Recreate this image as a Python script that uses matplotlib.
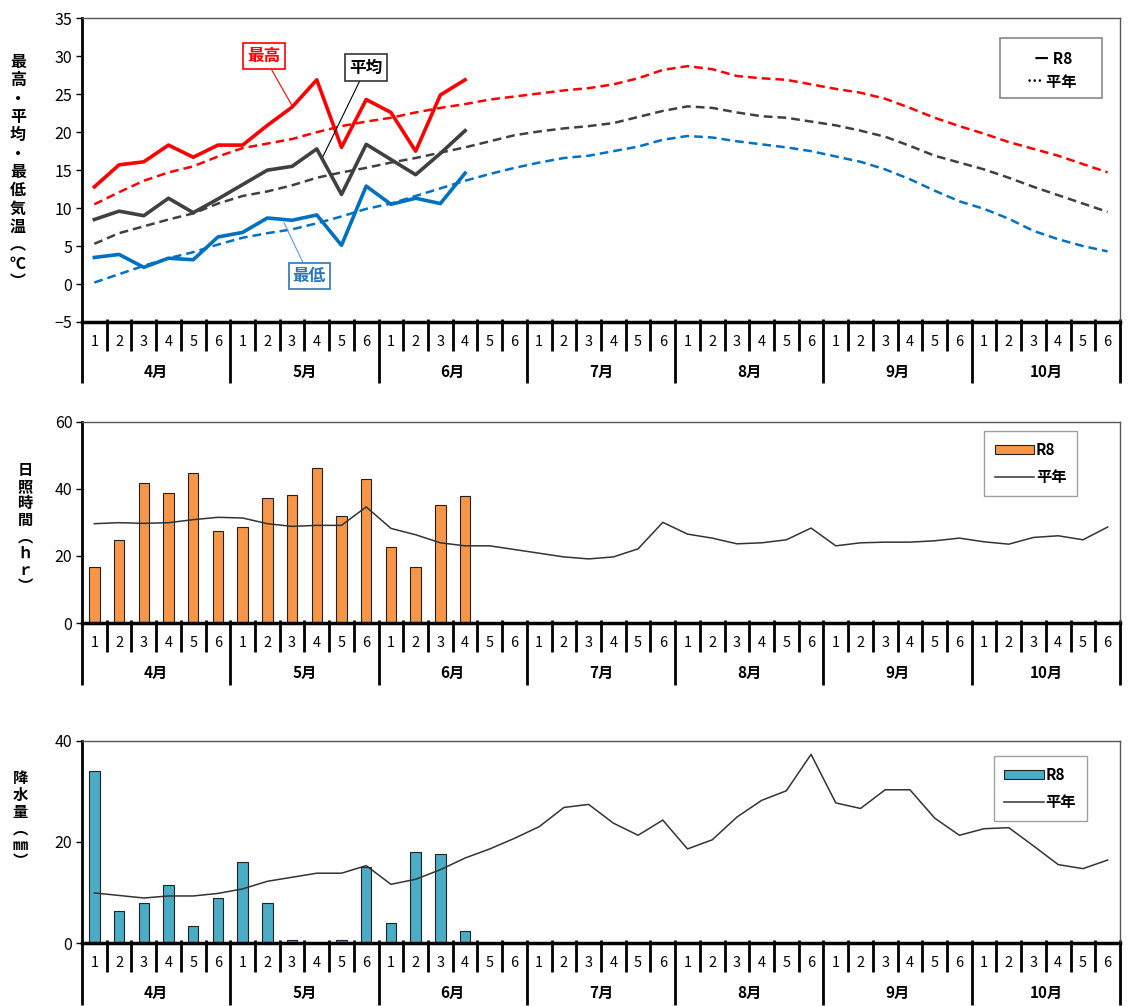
import numpy as np
import matplotlib
matplotlib.use('Agg')
import matplotlib.pyplot as plt
from matplotlib.transforms import blended_transform_factory
from matplotlib.patches import Rectangle, Patch
from matplotlib.lines import Line2D

plt.rcParams['font.family'] = ['Noto Sans CJK JP', 'DejaVu Sans']

months = ['4月', '5月', '6月', '7月', '8月', '9月', '10月']
pentads = ['1', '2', '3', '4', '5', '6']

# 気温 R8 (4月1半旬〜6月4半旬)
tmax_r8 = [12.8, 15.7, 16.1, 18.3, 16.7, 18.3, 18.3, 20.9, 23.3, 26.9, 18.0, 24.3, 22.6, 17.5, 24.9, 26.9]
tmean_r8 = [8.5, 9.6, 9.0, 11.3, 9.4, 11.2, 13.1, 15.0, 15.5, 17.8, 11.8, 18.4, 16.4, 14.4, 17.2, 20.2]
tmin_r8 = [3.5, 3.9, 2.2, 3.4, 3.2, 6.2, 6.8, 8.7, 8.4, 9.1, 5.1, 12.9, 10.5, 11.3, 10.6, 14.6]

# 気温 平年
tmax_norm = [10.5, 12.1, 13.6, 14.7, 15.5, 16.8, 17.9, 18.5, 19.1, 20.0, 20.8, 21.4,
             21.9, 22.6, 23.2, 23.7, 24.3, 24.7, 25.1, 25.5, 25.8, 26.3, 27.1, 28.2,
             28.7, 28.3, 27.4, 27.1, 26.9, 26.3, 25.7, 25.2, 24.4, 23.2, 21.9, 20.8,
             19.8, 18.7, 17.8, 16.9, 15.8, 14.7]
tmean_norm = [5.3, 6.7, 7.6, 8.5, 9.3, 10.6, 11.6, 12.2, 13.0, 14.0, 14.7, 15.3,
              16.0, 16.6, 17.3, 18.0, 18.8, 19.6, 20.1, 20.5, 20.8, 21.2, 22.0, 22.8,
              23.4, 23.2, 22.6, 22.1, 21.9, 21.4, 20.9, 20.2, 19.4, 18.2, 16.9, 16.0,
              15.1, 14.0, 12.8, 11.7, 10.6, 9.5]
tmin_norm = [0.2, 1.3, 2.4, 3.4, 4.2, 5.2, 6.1, 6.7, 7.2, 8.0, 8.9, 9.9,
             10.6, 11.6, 12.6, 13.6, 14.5, 15.3, 16.0, 16.6, 16.9, 17.5, 18.1, 19.0,
             19.5, 19.3, 18.8, 18.4, 18.0, 17.5, 16.8, 16.1, 15.1, 13.8, 12.3, 10.9,
             9.9, 8.6, 7.0, 5.9, 5.0, 4.3]

# 日照時間
sun_r8 = [16.6, 24.8, 41.8, 38.7, 44.8, 27.3, 28.7, 37.3, 38.1, 46.2, 32.0, 42.9,
          22.8, 16.7, 35.1, 37.9]
sun_norm = [29.6, 29.9, 29.7, 29.9, 30.8, 31.5, 31.3, 29.6, 28.8, 29.1, 29.1, 34.6,
            28.2, 26.3, 23.9, 23.0, 23.0, 21.9, 20.8, 19.7, 19.1, 19.7, 22.1, 30.0,
            26.5, 25.3, 23.6, 23.9, 24.8, 28.3, 23.0, 23.9, 24.1, 24.1, 24.5, 25.3,
            24.2, 23.5, 25.5, 26.0, 24.8, 28.6]

# 降水量
rain_r8 = [34.0, 6.4, 8.0, 11.4, 3.4, 8.9, 16.0, 7.9, 0.5, 0.0, 0.5, 15.1,
           4.0, 17.9, 17.5, 2.4]
rain_norm = [9.9, 9.4, 8.9, 9.3, 9.3, 9.8, 10.7, 12.2, 13.0, 13.8, 13.8, 15.3,
             11.6, 12.6, 14.5, 16.8, 18.6, 20.7, 23.0, 26.8, 27.4, 23.7, 21.3, 24.3,
             18.6, 20.4, 24.9, 28.2, 30.1, 37.3, 27.7, 26.6, 30.3, 30.3, 24.7, 21.3,
             22.6, 22.8, 19.2, 15.5, 14.7, 16.4]

W, H = 1129, 1006
fig = plt.figure(figsize=(W / 100, H / 100), dpi=100)

def fy(px):
    return 1 - px / H

L, R = 82, 1120

def make_ax(top, bottom):
    ax = fig.add_axes([L / W, fy(bottom), (R - L) / W, (bottom - top) / H])
    ax.set_xlim(-0.5, 41.5)
    ax.set_xticks([])
    for s in ['top', 'right']:
        ax.spines[s].set_color('#555555')
        ax.spines[s].set_linewidth(1)
    ax.spines['left'].set_linewidth(2)
    ax.spines['bottom'].set_linewidth(2.5)
    ax.tick_params(axis='y', direction='out', length=4, width=1, labelsize=11.5, pad=3)
    return ax

def pentad_axis(ax, y_axis, y_short, y_long, y_num, y_mon):
    tr = blended_transform_factory(ax.transData, fig.transFigure)
    for k in range(43):
        xb = k - 0.5
        y_end = y_long if k % 6 == 0 else y_short
        ax.plot([xb, xb], [fy(y_axis - 3), fy(y_end)], color='black', lw=2,
                transform=tr, clip_on=False, solid_capstyle='butt')
    for i in range(42):
        ax.text(i, fy(y_num), pentads[i % 6], transform=tr, ha='center', va='center',
                fontsize=10.5)
    for m, name in enumerate(months):
        ax.text(m * 6 + 2.5, fy(y_mon), name, transform=tr, ha='center', va='center',
                fontsize=11, fontweight='bold')

def vlabel(text, x, y, size=11, spacing=1.05):
    fig.text(x / W, fy(y), '\n'.join(text), ha='center', va='center', fontsize=size,
             fontweight='bold', linespacing=spacing)

def small_legend(ax, color, anchor):
    handles = [Patch(fc=color, ec='#222222', lw=0.8), Line2D([], [], color='#333333', lw=1.1)]
    ax.legend(handles, ['R8', '平年'], loc='upper right', bbox_to_anchor=anchor,
              borderaxespad=0, frameon=True, fancybox=False, edgecolor='#888888',
              borderpad=0.7, labelspacing=0.75, handlelength=2.6, handleheight=0.5,
              handletextpad=0.1, prop={'weight': 'bold', 'size': 11})

x_all = np.arange(42)
x_obs = np.arange(len(tmax_r8))

# ---- 気温 ----
ax1 = make_ax(18.3, 322)
ax1.set_ylim(-5, 35)
ax1.set_yticks(np.arange(-5, 36, 5))
ax1.set_yticklabels([str(v).replace('-', '−') for v in range(-5, 36, 5)])
red, gray, blue = '#FF0000', '#404040', '#0070C0'
ax1.plot(x_all, tmax_norm, color=red, lw=1.8, dashes=(3.5, 2))
ax1.plot(x_all, tmean_norm, color=gray, lw=1.8, dashes=(3.5, 2))
ax1.plot(x_all, tmin_norm, color=blue, lw=1.8, dashes=(3.5, 2))
ax1.plot(x_obs, tmax_r8, color=red, lw=2.6)
ax1.plot(x_obs, tmean_r8, color=gray, lw=2.6)
ax1.plot(x_obs, tmin_r8, color=blue, lw=2.6)

ax1.annotate('最高', xy=(8.0, 23.5), xytext=(6.86, 30.0), color=red, fontsize=12,
             fontweight='bold', ha='center', va='center',
             bbox=dict(boxstyle='square,pad=0.25', fc='white', ec=red, lw=1.2),
             arrowprops=dict(arrowstyle='-', color=red, lw=0.8, shrinkA=0, shrinkB=0))
ax1.annotate('平均', xy=(9.25, 16.8), xytext=(11.0, 28.5), color='black', fontsize=12,
             fontweight='bold', ha='center', va='center',
             bbox=dict(boxstyle='square,pad=0.25', fc='white', ec='#333333', lw=1.2),
             arrowprops=dict(arrowstyle='-', color='black', lw=0.8, shrinkA=0, shrinkB=0))
ax1.annotate('最低', xy=(7.67, 8.1), xytext=(8.7, 1.05), color='#2E75B6', fontsize=12,
             fontweight='bold', ha='center', va='center',
             bbox=dict(boxstyle='square,pad=0.25', fc='white', ec='#2E75B6', lw=1.2),
             arrowprops=dict(arrowstyle='-', color='#5B9BD5', lw=0.8, shrinkA=0, shrinkB=0))

ax1.add_patch(Rectangle((0.884, 0.738), 0.099, 0.197, transform=ax1.transAxes,
                        fill=False, ec='#888888', lw=1.2))
ax1.text(0.936, 0.866, 'ー R8', transform=ax1.transAxes, ha='center', va='center',
         fontsize=11, fontweight='bold')
ax1.text(0.934, 0.79, '… 平年', transform=ax1.transAxes, ha='center', va='center',
         fontsize=11, fontweight='bold')
pentad_axis(ax1, 322, 351, 383, 342, 372)
vlabel('最高・平均・最低気温︵℃︶', 18, 172, size=11.5, spacing=1.18)

# ---- 日照時間 ----
ax2 = make_ax(421.7, 623)
ax2.set_ylim(0, 60)
ax2.set_yticks([0, 20, 40, 60])
ax2.bar(x_obs, sun_r8, width=0.42, color='#F79646', edgecolor='#222222', lw=0.8, zorder=2)
ax2.plot(x_all, sun_norm, color='#333333', lw=1.1, zorder=3)
small_legend(ax2, '#F79646', (0.9586, 0.954))
pentad_axis(ax2, 623, 652, 685, 643, 673)
vlabel('日照時間︵ｈｒ︶', 25, 528)

# ---- 降水量 ----
ax3 = make_ax(740.7, 943)
ax3.set_ylim(0, 40)
ax3.set_yticks([0, 20, 40])
ax3.bar(x_obs, rain_r8, width=0.42, color='#4BACC6', edgecolor='#222222', lw=0.8, zorder=2)
ax3.plot(x_all, rain_norm, color='#333333', lw=1.1, zorder=3)
small_legend(ax3, '#4BACC6', (0.968, 0.924))
pentad_axis(ax3, 943, 972, 1005, 963, 993)
vlabel('降水量︵㎜︶', 20, 820)

fig.savefig('out.png', dpi=100)
